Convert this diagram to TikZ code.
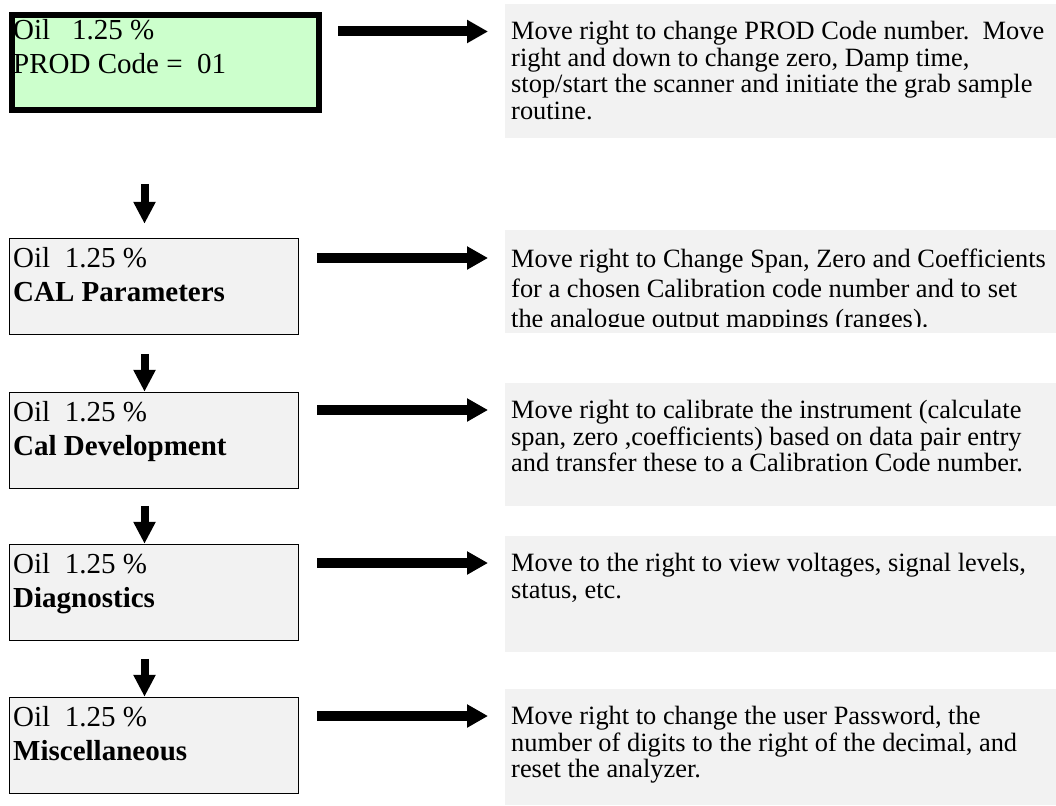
\documentclass[tikz,border=0pt]{standalone}
\usepackage{fontspec}
\setmainfont{Liberation Serif}
\usetikzlibrary{arrows.meta,positioning}
\definecolor{lcdgreen}{HTML}{CCFFCC}
\definecolor{panelgray}{HTML}{F2F2F2}
\frenchspacing
\tikzset{
    screen/.style={rectangle,draw=black,line width=1.5pt,fill=panelgray,minimum width=289pt,minimum height=96pt,inner sep=0,anchor=north west},
    homescreen/.style={screen,line width=6pt,fill=lcdgreen,minimum width=307pt,minimum height=95pt},
    lcdtext/.style={anchor=north west,inner sep=0,align=left,font=\fontsize{29}{34}\selectfont},
    note/.style={rectangle,fill=panelgray,minimum width=551pt,inner sep=0,anchor=north west},
    notetext/.style={anchor=north west,inner sep=0,align=left,font=\fontsize{26.4}{26.5}\selectfont},
    fatarrow/.style={line width=10pt,-{Triangle[length=21pt,width=22pt]}},
    downarrow/.style={line width=8pt,-{Triangle[length=22pt,width=21pt]}}
}

\begin{document}
\begin{tikzpicture}[x=1pt,y=-1pt]
    \useasboundingbox (0,0) rectangle (1056,805);

    \node[homescreen] (prod) at (9,12) {};
    \node[screen] (cal) at (8.75,237.75) {};
    \node[screen] (caldev) at (8.75,391.75) {};
    \node[screen] (diag) at (8.75,543.75) {};
    \node[screen] (misc) at (8.75,696.75) {};

    \node[lcdtext] (prodtxt) at (13,19) {Oil\ \ \ 1.25 \%\\PROD Code =\ \ 01};
    \node[lcdtext] (caltxt) at (13,247) {Oil\ \ 1.25 \%\\\textbf{CAL Parameters}};
    \node[lcdtext] (caldevtxt) at (13,401) {Oil\ \ 1.25 \%\\\textbf{Cal Development}};
    \node[lcdtext] (diagtxt) at (13,553) {Oil\ \ 1.25 \%\\\textbf{Diagnostics}};
    \node[lcdtext] (misctxt) at (13,706) {Oil\ \ 1.25 \%\\\textbf{Miscellaneous}};

    \node[note,minimum height=134pt] (descA) at (505,4) {};
    \node[note,minimum height=103pt] (descB) at (505,230) {};
    \node[note,minimum height=123pt] (descC) at (505,383) {};
    \node[note,minimum height=116pt] (descD) at (505,536) {};
    \node[note,minimum height=116pt] (descE) at (505,689) {};

    \node[notetext] (descAtxt) at (511,21) {Move right to change PROD Code number.\ \ Move\\right and down to change zero, Damp time,\\stop/start the scanner and initiate the grab sample\\routine.};
    \begin{scope}
        \clip (505,230) rectangle (1056,326);
        \node[notetext,font=\fontsize{26.4}{30}\selectfont] (descBtxt) at (511,249) {Move right to Change Span, Zero and Coefficients\\for a chosen Calibration code number and to set\\the analogue output mappings (ranges).};
    \end{scope}
    \node[notetext] (descCtxt) at (511,400) {Move right to calibrate the instrument (calculate\\span, zero ,coefficients) based on data pair entry\\and transfer these to a Calibration Code number.};
    \node[notetext] (descDtxt) at (511,553) {Move to the right to view voltages, signal levels,\\status, etc.};
    \node[notetext] (descEtxt) at (511,706) {Move right to change the user Password, the\\number of digits to the right of the decimal, and\\reset the analyzer.};

    \coordinate (inA) at ([xshift=-17pt,yshift=-27.5pt]descA.north west);
    \coordinate (inB) at ([xshift=-17pt,yshift=-28pt]descB.north west);
    \coordinate (inC) at ([xshift=-17pt,yshift=-27pt]descC.north west);
    \coordinate (inD) at ([xshift=-17pt,yshift=-27pt]descD.north west);
    \coordinate (inE) at ([xshift=-17pt,yshift=-27pt]descE.north west);

    \draw[fatarrow] ([xshift=16pt]prod.east |- inA) -- (inA);
    \draw[fatarrow] ([xshift=18pt]cal.east |- inB) -- (inB);
    \draw[fatarrow] ([xshift=18pt]caldev.east |- inC) -- (inC);
    \draw[fatarrow] ([xshift=18pt]diag.east |- inD) -- (inD);
    \draw[fatarrow] ([xshift=18pt]misc.east |- inE) -- (inE);

    \draw[downarrow] ([xshift=-9.5pt,yshift=54pt]cal.north) -- ([xshift=-9.5pt,yshift=14pt]cal.north);
    \draw[downarrow] ([xshift=-9.5pt,yshift=38pt]caldev.north) -- ([xshift=-9.5pt]caldev.north);
    \draw[downarrow] ([xshift=-9.5pt,yshift=38pt]diag.north) -- ([xshift=-9.5pt]diag.north);
    \draw[downarrow] ([xshift=-9.5pt,yshift=38pt]misc.north) -- ([xshift=-9.5pt]misc.north);
\end{tikzpicture}
\end{document}
